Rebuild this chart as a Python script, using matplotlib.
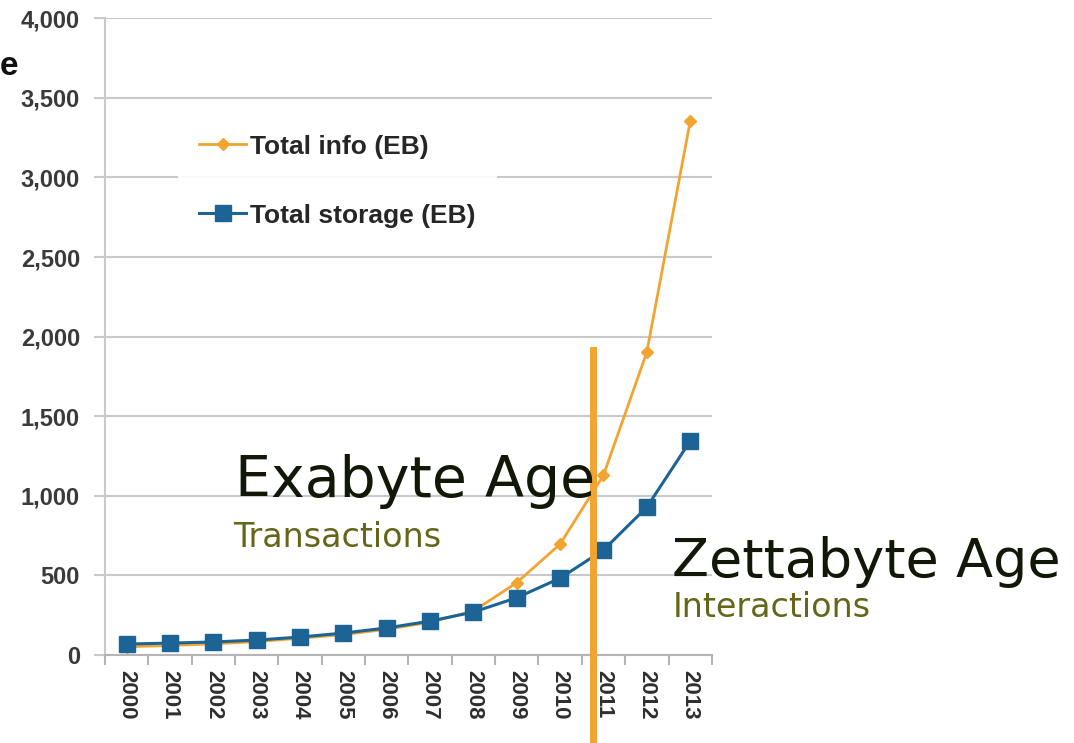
import matplotlib
matplotlib.use("Agg")
import matplotlib.pyplot as plt
from matplotlib.ticker import FuncFormatter, FixedLocator

plt.rcParams['font.family'] = ['Liberation Sans', 'DejaVu Sans']

# yearly totals in exabytes
years = ['2000', '2001', '2002', '2003', '2004', '2005', '2006',
         '2007', '2008', '2009', '2010', '2011', '2012', '2013']
total_info = [52, 60, 70, 84, 106, 128, 162, 206, 276, 455, 697, 1130, 1903, 3353]
total_storage = [69, 75, 82, 94, 113, 138, 170, 213, 270, 360, 483, 660, 929, 1344]

orange = '#F2A431'
blue = '#1B6495'
grid_c = '#c9c9c9'

fig = plt.figure(figsize=(10.74, 7.43), dpi=100)
ax = fig.add_axes([0.0978, 0.1184, 0.565, 0.857])

x = range(len(years))
ax.plot(x, total_info, '-D', color=orange, lw=2, ms=6, label='Total info (EB)', zorder=3)
ax.plot(x, total_storage, '-s', color=blue, lw=2.2, ms=11, label='Total storage (EB)', zorder=4)

ax.set_xlim(-0.5, len(years) - 0.5)
ax.set_ylim(0, 4000)
ax.set_yticks(range(0, 4001, 500))
ax.yaxis.set_major_formatter(FuncFormatter(lambda v, p: f'{int(v):,}'))
ax.grid(axis='y', color=grid_c, lw=1.5)
ax.set_axisbelow(True)

for s in ['top', 'right']:
    ax.spines[s].set_visible(False)
ax.spines['left'].set_color(grid_c)
ax.spines['left'].set_linewidth(1.5)
ax.spines['bottom'].set_color('#b5b5b5')
ax.spines['bottom'].set_linewidth(1.5)

ax.tick_params(axis='y', length=8, color=grid_c, width=1.5, pad=10,
               labelsize=17, labelcolor='#3a3a3a')
for t in ax.get_yticklabels():
    t.set_fontweight('bold')

ax.set_xticks(list(x))
ax.set_xticklabels(years, rotation=270, fontsize=16, color='#2e2e2e', fontweight='bold')
ax.tick_params(axis='x', which='major', length=0, pad=11)
ax.xaxis.set_minor_locator(FixedLocator([i - 0.5 for i in range(len(years) + 1)]))
ax.tick_params(axis='x', which='minor', length=7, color='#b5b5b5', width=1.5)

leg = ax.legend(loc='upper left', bbox_to_anchor=(0.098, 0.871), frameon=True,
                facecolor='white', edgecolor='none', framealpha=0.9,
                labelspacing=1.7, handlelength=1.8, handletextpad=0.15,
                prop={'size': 19, 'weight': 'bold'}, borderpad=0.8)
for t in leg.get_texts():
    t.set_color('#262626')

# era divider
ax.plot([10.76, 10.76], [1915, -555], color=orange, lw=5, clip_on=False, zorder=5)

big = dict(color='#121808', family='DejaVu Sans', va='baseline')
small = dict(fontsize=24, color='#66661a', family='DejaVu Sans', va='baseline')
fig.text(0.2188, 0.331, 'Exabyte Age', fontsize=41, **big)
fig.text(0.217, 0.2638, 'Transactions', **small)
fig.text(0.6257, 0.2234, 'Zettabyte Age', fontsize=39, **big)
fig.text(0.6266, 0.1696, 'Interactions', **small)
fig.text(0.0, 0.91, 'e', fontsize=24, fontweight='bold', color='#111111', va='center')

fig.savefig('out.png', dpi=100)
